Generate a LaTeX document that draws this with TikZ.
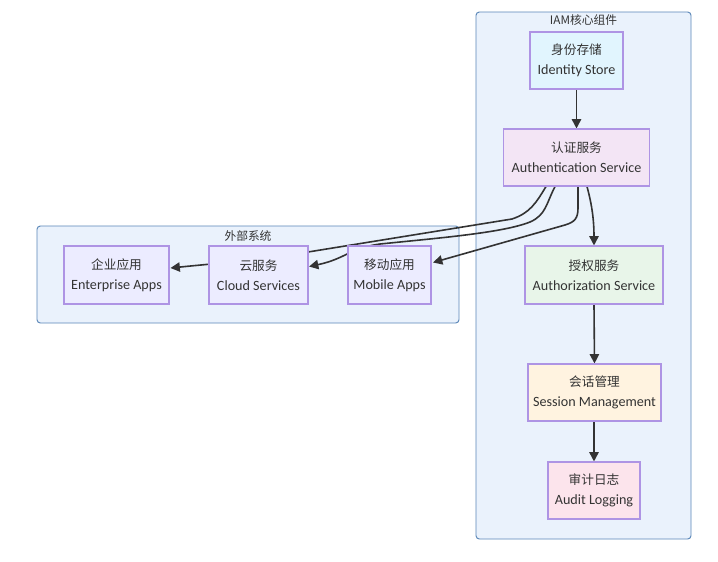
\documentclass[tikz,border=0pt]{standalone}
\usepackage{fontspec}
\setmainfont{Carlito}
\newfontfamily\cjk{Noto Sans CJK SC}
\usetikzlibrary{arrows.meta,calc}
\definecolor{clfill}{HTML}{EAF2FC}
\definecolor{cldraw}{HTML}{5A86B8}
\definecolor{ndraw}{HTML}{AE94E4}
\definecolor{nfill}{HTML}{ECECFF}
\definecolor{cids}{HTML}{E1F5FE}
\definecolor{cauth}{HTML}{F3E5F5}
\definecolor{cauthz}{HTML}{E8F5E9}
\definecolor{csess}{HTML}{FFF3E0}
\definecolor{caudit}{HTML}{FCE4EC}
\definecolor{txt}{HTML}{333333}
\definecolor{edge}{HTML}{333333}
\pgfdeclarelayer{bg}
\pgfdeclarelayer{edges}
\pgfsetlayers{bg,edges,main}
\newcommand{\lbl}[2]{{\cjk\fontsize{9.5}{12}\selectfont #1}\\[3.3pt]{\fontsize{10.6}{12}\selectfont #2}}
\tikzset{
  nbox/.style={draw=ndraw, line width=0.8pt, fill=nfill, rectangle, align=center, text=txt, inner sep=0pt},
  cluster/.style={draw=cldraw, line width=0.7pt, fill=clfill, rounded corners=2.5pt},
  ctitle/.style={text=txt, font=\cjk\fontsize{8.8}{11}\selectfont, inner sep=0pt},
  conn/.style={draw=edge, line width=1.2pt, -{Triangle[length=7pt,width=7pt]}},
}
\begin{document}
\begin{tikzpicture}[x=0.75pt,y=-0.75pt]
\useasboundingbox (0,0) rectangle (718,561);
% clusters
\begin{pgfonlayer}{bg}
\fill[white] (0,0) rectangle (718,561);
\draw[cluster] (476,12) rectangle (691,539);
\draw[cluster] (37,226) rectangle (459,323);
\end{pgfonlayer}
\node[ctitle] (tiam) at (583.5,20.5) {IAM核心组件};
\node[ctitle] (text) at (248,236.5) {外部系统};
% nodes
\node[nbox, fill=cids, minimum width=93*0.75pt, minimum height=57*0.75pt] (ids) at (576.5,60.5) {\lbl{身份存储}{Identity Store}};
\node[nbox, fill=cauth, minimum width=146*0.75pt, minimum height=57*0.75pt] (auth) at (576.5,157.5) {\lbl{认证服务}{Authentication Service}};
\node[nbox, fill=cauthz, minimum width=138*0.75pt, minimum height=58*0.75pt] (authz) at (594,275) {\lbl{授权服务}{Authorization Service}};
\node[nbox, fill=csess, minimum width=133*0.75pt, minimum height=57*0.75pt] (sess) at (594.5,392.5) {\lbl{会话管理}{Session Management}};
\node[nbox, fill=caudit, minimum width=92*0.75pt, minimum height=57*0.75pt] (audit) at (594,490.5) {\lbl{审计日志}{Audit Logging}};
\node[nbox, minimum width=105*0.75pt, minimum height=58*0.75pt] (ent) at (116.5,275) {\lbl{企业应用}{Enterprise Apps}};
\node[nbox, minimum width=99*0.75pt, minimum height=58*0.75pt] (cloud) at (258.5,275) {\lbl{云服务}{Cloud Services}};
\node[nbox, minimum width=83*0.75pt, minimum height=58*0.75pt] (mob) at (389.5,275) {\lbl{移动应用}{Mobile Apps}};
% edges
\begin{pgfonlayer}{edges}
\draw[conn] (ids.south) -- (auth.north);
\draw[conn] (authz.south) -- (sess.north);
\draw[conn] ($(sess.south)+(-0.5,0)$) -- (audit.north);
\draw[conn] ($(auth.south)+(10.5,0)$) .. controls (592,205) and (594,220) .. (authz.north);
\draw[conn] ($(auth.south)+(1.5,0)$) -- (578,208) .. controls (578,218) and (575,222) .. (565,225) -- ($(mob.east)+(1.5,-12.5)$);
\draw[conn] ($(auth.south)+(-21.5,0)$) .. controls (546,204) and (546,215) .. (530,222) .. controls (510,230) and (470,235) .. (420,240) -- (380,244) .. controls (350,248) and (345,259) .. ($(cloud.east)+(0.5,-8.5)$);
\draw[conn] ($(auth.south)+(-30.5,0)$) .. controls (536,203) and (530,213) .. (512,219) -- (308,252) .. controls (260,260) and (220,263) .. ($(ent.east)+(1,-7)$);
\end{pgfonlayer}
\end{tikzpicture}
\end{document}
